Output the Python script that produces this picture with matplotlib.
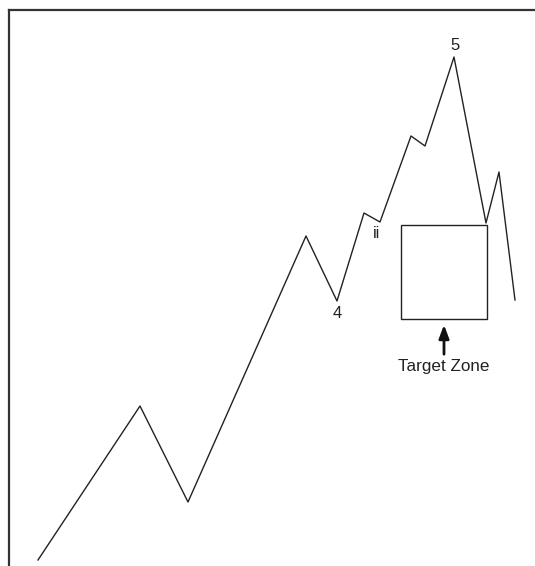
import matplotlib
matplotlib.use("Agg")
import matplotlib.pyplot as plt
from matplotlib.patches import Rectangle

# wave path (x = time, y = price)
wave_x = [38, 140, 188, 306, 337, 364, 380, 411, 425, 454, 486, 499, 515]
wave_y = [6, 160, 64, 330, 265, 353, 344, 430, 420, 509, 343, 394, 266]

# wave labels
labels = ["4", "ii", "5"]
label_x = [337, 376, 455]
label_y = [253, 332, 520]
label_size = [12, 11.5, 12]

# target zone box
zone_x = [401, 487]
zone_y = [247, 341]
zone_text = "Target Zone"

W, H = 535, 566
fig = plt.figure(figsize=(W / 100, H / 100), dpi=100)
ax = fig.add_axes([9 / W, 0, (W - 9) / W, (H - 10) / H])
ax.set_xlim(9, 535)
ax.set_ylim(0, 556)

ax.plot(wave_x, wave_y, color="#222222", lw=1.0)

for t, x, y, s in zip(labels, label_x, label_y, label_size):
    ax.text(x, y, t, ha="center", va="center", fontsize=s,
            family="Liberation Sans", color="#222222")

ax.add_patch(Rectangle((zone_x[0], zone_y[0]), zone_x[1] - zone_x[0],
                       zone_y[1] - zone_y[0], fill=False,
                       edgecolor="#222222", lw=1.0))

mid = (zone_x[0] + zone_x[1]) / 2
ax.annotate("", xy=(mid, zone_y[0] - 3), xytext=(mid, zone_y[0] - 38),
            arrowprops=dict(arrowstyle="-|>,head_length=0.8,head_width=0.3",
                            color="#111111", lw=2))
ax.text(mid, zone_y[0] - 47, zone_text, ha="center", va="center",
        fontsize=12.3, family="Liberation Sans", color="#222222")

for side in ["right", "bottom"]:
    ax.spines[side].set_visible(False)
for side in ["top", "left"]:
    ax.spines[side].set_linewidth(1.6)
    ax.spines[side].set_color("#333333")
ax.set_xticks([])
ax.set_yticks([])

fig.savefig("out.png", dpi=100)
